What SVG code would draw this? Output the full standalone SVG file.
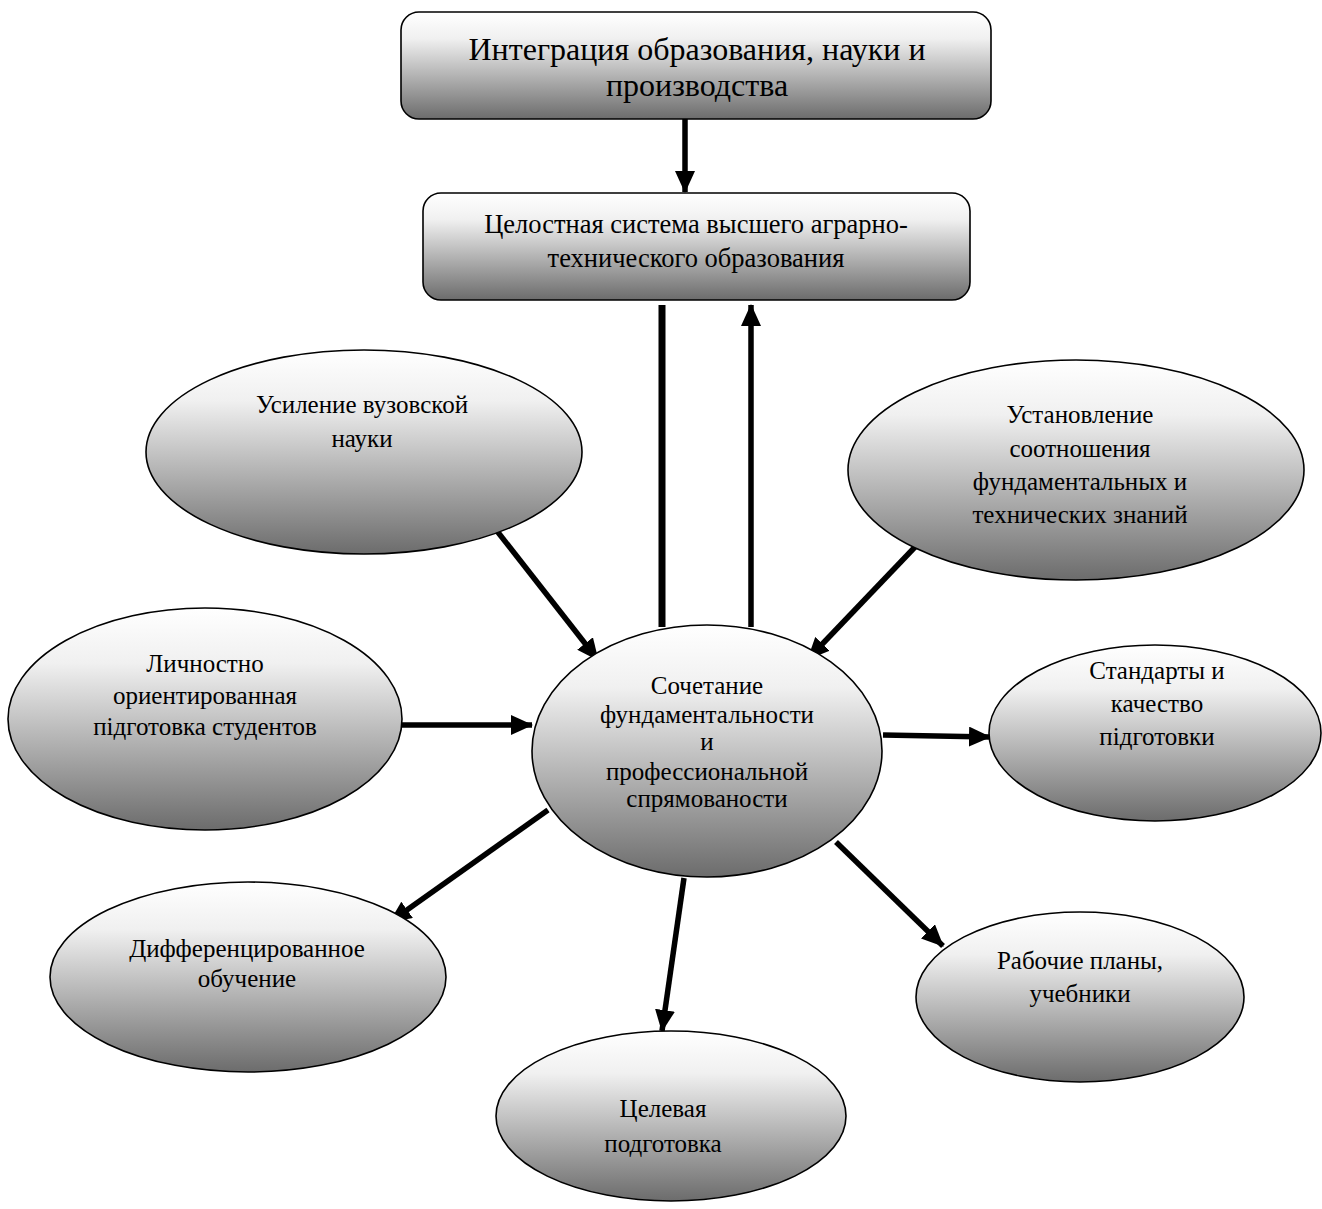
<svg xmlns="http://www.w3.org/2000/svg" width="1322" height="1209" viewBox="0 0 1322 1209">
<defs>
<linearGradient id="g" x1="0" y1="0" x2="0" y2="1">
<stop offset="0" stop-color="#ffffff"/>
<stop offset="0.25" stop-color="#f0f0f0"/>
<stop offset="1" stop-color="#6c6c6c"/>
</linearGradient>
<marker id="ah" markerUnits="userSpaceOnUse" markerWidth="22" markerHeight="20" viewBox="0 0 22 20" refX="21" refY="10" orient="auto">
<path d="M0,0 L22,10 L0,20 Z" fill="#000"/>
</marker>
</defs>
<style>
.n{fill:url(#g);stroke:#000;stroke-width:1.6}
.t{font-family:"Liberation Serif","Times New Roman",serif;font-size:25px;fill:#000;text-anchor:middle}
.tb{font-size:32px}
.tm{font-size:26.5px}
.c{stroke:#000;stroke-width:5.5;fill:none}
</style>
<g id="connectors">
<line class="c" x1="685" y1="119" x2="685" y2="192" marker-end="url(#ah)"/>
<line class="c" x1="662" y1="305" x2="662" y2="627" style="stroke-width:7"/>
<line class="c" x1="751" y1="627" x2="751" y2="305" marker-end="url(#ah)"/>
<line class="c" x1="497" y1="531" x2="598" y2="660" marker-end="url(#ah)"/>
<line class="c" x1="915" y1="547" x2="808" y2="659" marker-end="url(#ah)"/>
<line class="c" x1="402" y1="725" x2="532" y2="725" marker-end="url(#ah)"/>
<line class="c" x1="883" y1="735" x2="990" y2="737" marker-end="url(#ah)"/>
<line class="c" x1="548" y1="810" x2="390" y2="922" marker-end="url(#ah)"/>
<line class="c" x1="684" y1="878" x2="662" y2="1031" marker-end="url(#ah)"/>
<line class="c" x1="836" y1="842" x2="943" y2="946" marker-end="url(#ah)"/>
</g>
<g id="n-integration">
<rect class="n" x="401" y="12" width="590" height="107" rx="18"/>
<text class="t tb" x="697" y="60">Интеграция образования, науки и</text>
<text class="t tb" x="697" y="96">производства</text>
</g>
<g id="n-system">
<rect class="n" x="423" y="193" width="547" height="107" rx="18"/>
<text class="t tm" x="696" y="233">Целостная система высшего аграрно-</text>
<text class="t tm" x="696" y="267">технического образования</text>
</g>
<g id="n-science">
<ellipse class="n" cx="364" cy="452" rx="218" ry="102"/>
<text class="t" x="362" y="413">Усиление вузовской</text>
<text class="t" x="362" y="447">науки</text>
</g>
<g id="n-ratio">
<ellipse class="n" cx="1076" cy="470" rx="228" ry="110"/>
<text class="t" x="1080" y="423">Установление</text>
<text class="t" x="1080" y="457">соотношения</text>
<text class="t" x="1080" y="490">фундаментальных и</text>
<text class="t" x="1080" y="523">технических знаний</text>
</g>
<g id="n-personal">
<ellipse class="n" cx="205" cy="719" rx="197" ry="111"/>
<text class="t" x="205" y="672">Личностно</text>
<text class="t" x="205" y="704">ориентированная</text>
<text class="t" x="205" y="735">підготовка студентов</text>
</g>
<g id="n-center">
<ellipse class="n" cx="707" cy="751" rx="175" ry="126"/>
<text class="t" x="707" y="694">Сочетание</text>
<text class="t" x="707" y="723">фундаментальности</text>
<text class="t" x="707" y="750">и</text>
<text class="t" x="707" y="780">профессиональной</text>
<text class="t" x="707" y="807">спрямованости</text>
</g>
<g id="n-standards">
<ellipse class="n" cx="1155" cy="733" rx="166" ry="88"/>
<text class="t" x="1157" y="679">Стандарты и</text>
<text class="t" x="1157" y="712">качество</text>
<text class="t" x="1157" y="745">підготовки</text>
</g>
<g id="n-diff">
<ellipse class="n" cx="248" cy="977" rx="198" ry="95"/>
<text class="t" x="247" y="957">Дифференцированное</text>
<text class="t" x="247" y="987">обучение</text>
</g>
<g id="n-target">
<ellipse class="n" cx="671" cy="1116" rx="175" ry="85"/>
<text class="t" x="663" y="1117">Целевая</text>
<text class="t" x="663" y="1152">подготовка</text>
</g>
<g id="n-plans">
<ellipse class="n" cx="1080" cy="997" rx="164" ry="85"/>
<text class="t" x="1080" y="969">Рабочие планы,</text>
<text class="t" x="1080" y="1002">учебники</text>
</g>
</svg>
